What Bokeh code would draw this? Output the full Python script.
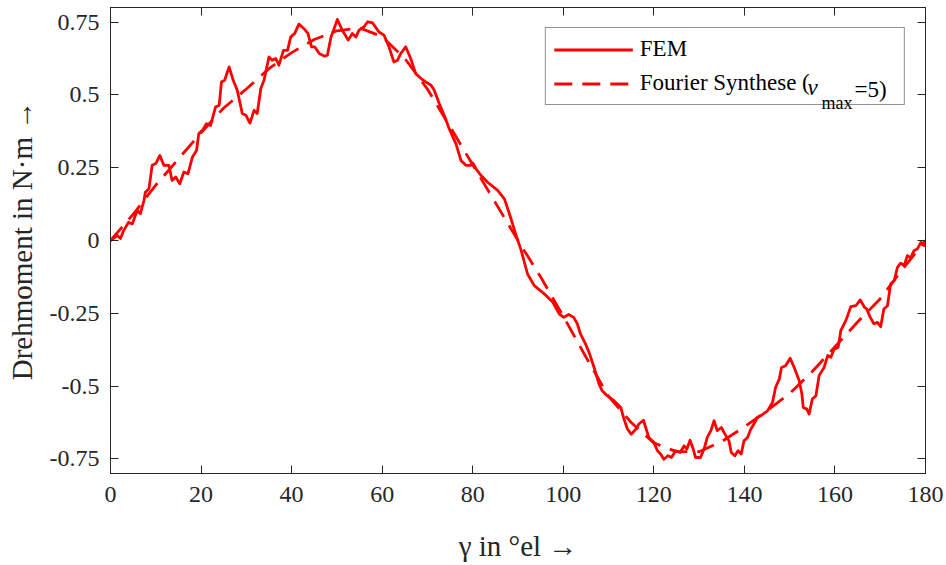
from bokeh.plotting import figure
from bokeh.models import (Range1d, FixedTicker, LinearAxis, Legend, LegendItem, Label)
from bokeh.embed import file_html
from bokeh.resources import INLINE

# ---------------- data ----------------
fem_x = [0, 1.5, 2.2, 2.9, 4.0, 4.8, 5.9, 6.6, 7.4, 7.7, 8.5, 9.2, 10.0, 10.9, 11.8, 12.9,
         13.6, 14.4, 15.3, 16.2, 17.1, 18.1, 19.0, 19.5, 20.3, 21.2, 22.1, 23.2, 24.0, 24.5,
         25.2, 26.2, 27.1, 28.0, 29.1, 29.9, 30.8, 31.7, 32.4, 33.2, 33.9, 35.0, 35.7, 36.5,
         37.2, 38.2, 39.1, 39.8, 40.7, 41.6, 42.7, 43.6, 44.4, 45.1, 46.1, 47.3, 47.9, 48.7,
         49.4, 50.1, 51.2, 52.5, 53.4, 54.2, 54.9, 56.0, 56.8, 57.9, 59.3, 60.4, 61.5, 62.6,
         63.4, 64.1, 65.2, 66.3, 67.4, 68.6, 69.7, 70.8, 71.5, 72.6, 73.7, 74.8, 76.3, 77.4,
         78.5, 79.6, 80.0, 80.7, 81.8, 83.3, 85.5, 87.0, 88.1, 89.6, 90.7, 92.1, 93.6, 95.8,
         97.7, 99.1, 100.1, 101.2, 102.3, 103.1, 103.8, 104.9, 105.7, 106.8, 107.9, 108.6,
         109.7, 111.2, 112.7, 113.4, 114.2, 115.0, 116.0, 116.7, 117.7, 118.2, 118.9, 120.0,
         120.8, 121.5, 122.2, 123.1, 123.9, 124.8, 125.8, 126.7, 127.3, 128.0, 128.7, 129.2,
         130.3, 131.1, 131.8, 132.6, 133.3, 134.0, 134.9, 135.9, 136.6, 137.1, 137.9, 138.6,
         139.3, 139.9, 140.7, 141.4, 142.1, 142.9, 143.6, 145.1, 146.2, 146.9, 147.7, 148.2,
         149.1, 150.1, 151.0, 152.1, 152.7, 153.0, 153.8, 154.3, 155.0, 155.8, 156.5, 157.6,
         158.4, 159.1, 159.8, 160.7, 161.3, 162.4, 162.8, 163.5, 164.6, 165.6, 166.5, 167.0,
         167.8, 168.6, 169.4, 170.1, 170.8, 171.6, 172.3, 173.1, 173.8, 174.5, 175.3, 176.0,
         176.7, 177.5, 178.2, 179.0, 179.7, 180.0]
fem_y = [0.0, 0.017, 0.007, 0.034, 0.063, 0.057, 0.103, 0.092, 0.138, 0.166, 0.178, 0.258,
         0.264, 0.292, 0.258, 0.258, 0.206, 0.218, 0.195, 0.235, 0.229, 0.287, 0.309, 0.367,
         0.378, 0.401, 0.395, 0.458, 0.464, 0.544, 0.550, 0.596, 0.550, 0.516, 0.436, 0.430,
         0.403, 0.447, 0.436, 0.522, 0.550, 0.630, 0.619, 0.625, 0.602, 0.653, 0.653, 0.699,
         0.711, 0.743, 0.728, 0.711, 0.665, 0.665, 0.642, 0.633, 0.636, 0.699, 0.728, 0.759,
         0.722, 0.688, 0.711, 0.699, 0.722, 0.734, 0.751, 0.747, 0.716, 0.705, 0.665, 0.613,
         0.619, 0.642, 0.665, 0.625, 0.573, 0.556, 0.544, 0.533, 0.516, 0.470, 0.430, 0.384,
         0.332, 0.275, 0.258, 0.258, 0.266, 0.247, 0.224, 0.200, 0.172, 0.143, 0.092, 0.017,
         -0.034, -0.115, -0.155, -0.183, -0.212, -0.252, -0.264, -0.254, -0.264, -0.286,
         -0.321, -0.355, -0.384, -0.436, -0.493, -0.516, -0.533, -0.550, -0.573, -0.613,
         -0.648, -0.665, -0.648, -0.630, -0.617, -0.642, -0.676, -0.693, -0.722, -0.733,
         -0.751, -0.739, -0.745, -0.722, -0.728, -0.705, -0.716, -0.686, -0.716, -0.745,
         -0.745, -0.716, -0.676, -0.653, -0.619, -0.653, -0.642, -0.670, -0.688, -0.728,
         -0.739, -0.722, -0.733, -0.688, -0.676, -0.648, -0.630, -0.607, -0.602, -0.585,
         -0.556, -0.504, -0.476, -0.436, -0.430, -0.404, -0.436, -0.481, -0.527, -0.573,
         -0.579, -0.596, -0.544, -0.533, -0.464, -0.436, -0.395, -0.401, -0.373, -0.367,
         -0.309, -0.275, -0.258, -0.227, -0.224, -0.204, -0.229, -0.235, -0.264, -0.286,
         -0.281, -0.296, -0.235, -0.224, -0.149, -0.138, -0.092, -0.078, -0.086, -0.052,
         -0.060, -0.034, -0.029, -0.006, -0.017, -0.010]

fs_x = [0, 5, 10, 15, 20, 25, 30, 35, 40, 45, 50, 55, 60, 65, 70, 75, 80, 85, 90,
        95, 100, 105, 110, 115, 120, 125, 130, 135, 140, 145, 150, 155, 160, 165, 170, 175, 180]
fs_y = [0.0, 0.09, 0.19, 0.28, 0.37, 0.455, 0.52, 0.59, 0.645, 0.69, 0.72, 0.73, 0.70,
        0.625, 0.52, 0.39, 0.26, 0.13, 0.0, -0.125, -0.26, -0.40, -0.535, -0.625, -0.695,
        -0.725, -0.725, -0.69, -0.64, -0.585, -0.525, -0.45, -0.365, -0.28, -0.2, -0.097, 0.0]

x_ticks = [0, 20, 40, 60, 80, 100, 120, 140, 160, 180]
y_ticks = [-0.75, -0.5, -0.25, 0, 0.25, 0.5, 0.75]
y_tick_labels = ["-0.75", "-0.5", "-0.25", "0", "0.25", "0.5", "0.75"]

label_fem = "FEM"
label_fs = "Fourier Synthese ("
x_label = "\u03b3 in \u00b0el \u2192"
y_label = "Drehmoment in N\u00b7m \u2192"

# ---------------- figure ----------------
FONT = "Liberation Serif"
AX = "#262626"
X0, X1, Y0, Y1 = 0, 180, -0.8, 0.8
W, H = 946, 565
ML, MR, MT, MB = 110, 21, 7, 92

p = figure(width=W, height=H, x_range=Range1d(X0, X1), y_range=Range1d(Y0, Y1),
           output_backend="svg", toolbar_location=None,
           min_border_left=ML, min_border_right=MR, min_border_top=MT, min_border_bottom=MB)
p.background_fill_color = "white"
p.border_fill_color = "white"
p.outline_line_color = AX
p.xgrid.visible = False
p.ygrid.visible = False

r_fem = p.line(fem_x, fem_y, line_color="#ff0000", line_width=2.8, line_join="round")
r_fs = p.line(fs_x, fs_y, line_color="#ff0000", line_width=2.8, line_dash="18 10")

def style_axis(ax, show_labels):
    ax.axis_line_color = AX
    ax.axis_line_width = 1
    ax.major_tick_line_color = AX
    ax.major_tick_line_width = 1
    ax.major_tick_in = 8
    ax.major_tick_out = 0
    ax.minor_tick_line_color = None
    if show_labels:
        ax.major_label_text_font = FONT
        ax.major_label_text_font_size = "24px"
        ax.major_label_text_color = AX
    else:
        ax.major_label_text_color = None
        ax.major_label_text_font_size = "1px"
        ax.major_label_standoff = 0

xa = p.xaxis[0]
xa.ticker = FixedTicker(ticks=x_ticks)
style_axis(xa, True)
xa.major_label_standoff = 13
xa.axis_label = x_label
xa.axis_label_text_font = FONT
xa.axis_label_text_font_size = "29px"
xa.axis_label_text_font_style = "normal"
xa.axis_label_text_color = AX
xa.axis_label_standoff = 25

ya = p.yaxis[0]
ya.ticker = FixedTicker(ticks=y_ticks)
ya.major_label_overrides = {t: s for t, s in zip(y_ticks, y_tick_labels)}
style_axis(ya, True)
ya.major_label_standoff = 11
ya.axis_label = y_label
ya.axis_label_text_font = FONT
ya.axis_label_text_font_size = "29px"
ya.axis_label_text_font_style = "normal"
ya.axis_label_text_color = AX
ya.axis_label_standoff = 9

top = LinearAxis(ticker=FixedTicker(ticks=x_ticks))
style_axis(top, False)
p.add_layout(top, "above")
right = LinearAxis(ticker=FixedTicker(ticks=y_ticks))
style_axis(right, False)
p.add_layout(right, "right")

pad = "\u00a0" * 15
legend = Legend(items=[LegendItem(label=label_fem, renderers=[r_fem]),
                       LegendItem(label=label_fs + pad, renderers=[r_fs])],
                location="top_right", margin=20, padding=8, spacing=8,
                glyph_width=79, glyph_height=25, label_height=25, label_standoff=7,
                label_text_font=FONT, label_text_font_size="23px", label_text_color="black",
                border_line_color=AX, border_line_width=1, background_fill_color=None,
                background_fill_alpha=0.0)
p.add_layout(legend, "center")

# parts of the legend label (italic nu, subscript) as text annotations, positioned in pixels
fw = W - ML - MR
fh = H - MT - MB
def xd(px):
    return X0 + (px - ML) / fw * (X1 - X0)
def yd(py):
    return Y1 - (py - MT) / fh * (Y1 - Y0)

for txt, px, py, size, style in [("\u03bd", 807, 87, "23px", "italic"),
                                 ("max", 821, 102, "18px", "normal"),
                                 ("=5)", 854, 89, "23px", "normal")]:
    p.add_layout(Label(x=xd(px), y=yd(py), text=txt, text_font=FONT, text_font_size=size,
                       text_font_style=style, text_color="black", level="overlay",
                       text_align="left", text_baseline="alphabetic"))

open("out.html", "w").write(file_html(p, INLINE))
